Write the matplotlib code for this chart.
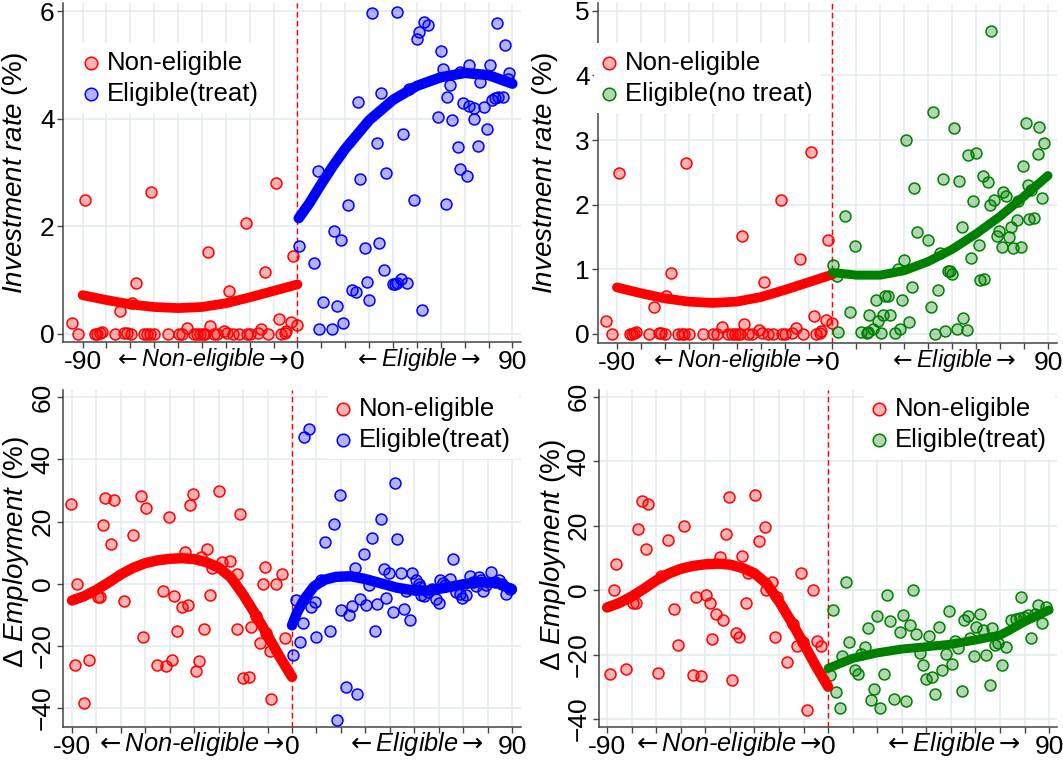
import numpy as np
import matplotlib
matplotlib.use('Agg')
import matplotlib.pyplot as plt

plt.rcParams['font.family'] = ['Liberation Sans', 'DejaVu Sans']
plt.rcParams['mathtext.fontset'] = 'custom'
plt.rcParams['mathtext.rm'] = 'Liberation Sans'
plt.rcParams['mathtext.it'] = 'Liberation Sans:italic'
plt.rcParams['mathtext.sf'] = 'DejaVu Sans'

# investment rate, non-eligible firms (same sample in both top panels)
inv_ne_x = [-94.4, -92.1, -89.0, -84.7, -83.8, -82.8, -81.9, -76.4, -74.4, -72.6, -71.5, -69.9, -69.4, -67.5,
            -64.3, -62.9, -61.8, -59.9, -61.3, -54.2, -49.7, -48.3, -46.3, -43.5, -42.1, -40.7, -39.6, -38.6,
            -37.6, -36.8, -35.1, -33.8, -30.7, -29.6, -28.6, -26.8, -24.7, -21.2, -19.9, -21.5, -16.7, -15.4,
            -13.6, -12.2, -9.0, -7.6, -6.7, -5.1, -4.9, -2.9, -1.8, -0.4]
inv_ne_y = [0.20, 0.00, 2.49, 0.00, 0.00, 0.02, 0.03, 0.00, 0.42, 0.02, 0.02, 0.00, 0.58, 0.94,
            0.00, 0.00, 0.00, 0.00, 2.64, 0.00, 0.00, 0.00, 0.11, 0.00, 0.00, 0.00, 0.00, 0.00,
            1.52, 0.15, 0.00, 0.00, 0.06, 0.02, 0.80, 0.00, 0.00, 0.00, 0.00, 2.07, 0.02, 0.09,
            1.16, 0.00, 2.81, 0.28, 0.00, 0.02, 0.05, 0.22, 1.45, 0.17]

# investment rate, eligible and treated
inv_tr_x = [0.7, 7.1, 8.5, 9.2, 10.5, 14.4, 15.3, 16.5, 18.3, 19.2, 21.3, 23.0, 24.4, 25.2, 26.2, 28.3,
            29.3, 30.1, 31.4, 33.2, 34.2, 35.0, 36.3, 37.1, 39.9, 40.9, 41.8, 41.8, 43.2, 44.1, 46.0, 46.9,
            48.8, 49.9, 50.9, 52.0, 53.0, 54.8, 59.0, 60.0, 60.8, 62.1, 62.8, 63.9, 64.9, 67.1, 68.1, 69.2,
            68.1, 70.9, 71.8, 72.0, 73.9, 74.1, 75.7, 76.4, 78.1, 79.5, 80.6, 81.6, 82.7, 84.1, 83.7, 85.9,
            86.9, 88.3, 88.7]
inv_tr_y = [1.63, 1.32, 3.02, 0.10, 0.59, 0.10, 1.92, 0.51, 1.75, 0.20, 2.39, 0.82, 0.78, 4.31, 2.88, 1.60,
            0.96, 0.63, 5.96, 3.55, 1.69, 4.47, 1.19, 3.00, 0.92, 0.92, 0.95, 5.99, 1.03, 3.71, 0.95, 4.55,
            2.48, 5.48, 5.61, 0.45, 5.80, 5.75, 4.04, 5.25, 4.92, 2.42, 4.41, 4.63, 3.98, 3.47, 4.86, 4.30,
            3.06, 2.94, 4.99, 4.23, 4.20, 3.99, 3.50, 4.69, 4.21, 3.81, 4.99, 4.35, 4.38, 4.41, 5.77, 4.41,
            5.37, 4.74, 4.85]

# investment rate, eligible but not treated
inv_nt_x = [0.3, 1.7, 2.5, 5.3, 7.2, 9.3, 12.1, 14.3, 15.0, 15.3, 17.0, 18.1, 19.2, 20.2, 20.9, 22.0, 23.0,
            24.1, 26.2, 27.2, 28.1, 28.9, 29.9, 30.9, 32.0, 33.0, 34.1, 35.1, 40.0, 41.1, 42.1, 42.9, 43.9,
            44.8, 46.0, 47.1, 48.1, 49.0, 49.9, 50.8, 51.8, 52.9, 53.9, 54.7, 56.0, 56.7, 59.9, 57.8, 58.8,
            61.6, 63.4, 61.0, 62.7, 64.8, 65.8, 67.6, 66.4, 68.7, 69.6, 70.8, 71.3, 72.4, 73.5, 74.5, 75.5,
            76.9, 77.3, 78.7, 79.4, 80.8, 81.5, 82.2, 84.3, 82.9, 85.7, 86.4, 87.5, 88.4]
inv_nt_y = [1.07, 0.89, 0.03, 1.82, 0.34, 1.36, 0.03, 0.02, 0.03, 0.29, 0.07, 0.53, 0.20, 0.02, 0.30, 0.58, 0.58,
            0.30, 0.02, 1.00, 0.07, 0.53, 1.14, 3.00, 0.18, 0.73, 2.26, 1.58, 1.45, 0.42, 3.44, 0.00, 0.68,
            1.25, 2.39, 0.05, 0.97, 0.97, 0.93, 3.19, 0.07, 2.36, 1.66, 0.24, 0.06, 2.77, 2.80, 1.17, 2.05,
            0.84, 0.85, 1.37, 2.45, 2.35, 2.00, 2.08, 4.69, 1.52, 1.59, 1.35, 2.19, 2.14, 1.50, 1.65, 1.33,
            1.77, 2.05, 1.34, 2.60, 3.27, 2.30, 1.78, 1.80, 2.23, 2.79, 3.20, 2.10, 2.96]

# fitted curves for investment rate
fit_inv_ne_x = [-90, -80, -70, -60, -50, -40, -30, -20, -10, 0]
fit_inv_ne_y = [0.72, 0.63, 0.55, 0.50, 0.48, 0.50, 0.57, 0.68, 0.80, 0.92]
fit_inv_tr_x = [0.5, 5, 10, 15, 20, 30, 40, 50, 60, 70, 80, 90]
fit_inv_tr_y = [2.15, 2.43, 2.79, 3.13, 3.44, 3.97, 4.35, 4.61, 4.77, 4.85, 4.81, 4.65]
fit_inv_nt_x = [0, 10, 20, 30, 40, 50, 60, 70, 80, 90]
fit_inv_nt_y = [0.95, 0.91, 0.91, 0.98, 1.12, 1.31, 1.55, 1.82, 2.13, 2.45]

# employment change, non-eligible (left bottom panel)
emp_ne1_x = [-90.3, -88.0, -88.8, -85.2, -83.2, -79.5, -78.7, -77.5, -76.4, -73.0, -74.1, -68.7, -65.1, -61.7,
             -59.7, -60.8, -55.3, -52.9, -51.7, -50.3, -49.3, -48.3, -47.0, -45.2, -43.9, -42.5, -41.6, -40.5,
             -39.2, -38.2, -37.1, -36.0, -34.8, -33.7, -32.7, -30.0, -28.8, -25.4, -22.7, -22.3, -21.1, -20.0,
             -17.5, -16.6, -14.6, -12.9, -11.8, -10.9, -10.5, -8.4, -8.8, -6.4, -4.0, -2.7]
emp_ne1_y = [25.6, 0.0, -26.0, -38.4, -24.4, -4.3, -4.3, 19.0, 27.7, 26.9, 12.7, -5.6, 15.8, 28.2,
             24.5, -17.0, -26.3, -2.2, -26.6, 21.3, -24.5, -4.0, -15.3, -7.5, 10.2, -7.0, 25.3, 29.0,
             -28.0, -25.0, 8.6, -14.5, 11.0, -3.8, 5.2, 29.8, 7.0, 7.2, 3.0, -14.5, 22.3, -30.3,
             -29.9, -14.0, -10.4, -19.0, 0.0, 5.4, -15.8, -37.1, -21.7, 0.0, 3.0, -17.4]

# employment change, eligible and treated (left bottom panel)
emp_tr_x = [0.4, 1.5, 3.1, 4.5, 4.9, 6.8, 7.9, 9.3, 10.0, 12.0, 13.6, 15.7, 17.1, 18.4, 19.5, 20.2, 22.2,
            23.2, 24.6, 25.6, 26.7, 28.0, 29.3, 30.4, 31.5, 32.7, 34.1, 34.9, 36.3, 37.5, 38.6, 39.7, 41.3,
            42.3, 43.0, 44.7, 45.7, 46.8, 48.4, 49.2, 50.9, 52.0, 52.3, 52.9, 53.9, 55.7, 57.4, 58.8, 60.2,
            60.7, 61.8, 62.8, 64.8, 65.9, 67.3, 68.6, 69.7, 71.1, 72.7, 74.1, 75.4, 76.5, 77.2, 78.2, 79.5,
            81.3, 82.9, 84.7, 86.1, 87.4, 89.1]
emp_tr_y = [-22.8, -5.2, -18.8, -12.6, 47.1, 49.8, -7.5, -5.9, -17.0, 1.1, 13.4, -15.1, 19.1, -43.8, 28.5, -8.4, -33.1,
            -10.2, -7.2, 5.1, -35.5, -4.8, 9.7, -6.7, -0.5, 14.7, -15.3, -6.5, 20.8, 4.8, -4.5, 3.4, -9.1,
            32.5, 14.5, 3.4, -8.3, -2.4, -11.8, 3.4, 1.1, 0.0, -1.1, -3.8, -4.0, -2.7, -1.6, -4.8, -6.2,
            1.1, 0.2, -0.3, 1.4, 8.1, -2.7, -3.2, -4.5, -3.8, 2.5, 0.5, -0.9, 2.2, 1.1, -2.4, -0.5,
            3.8, 0.5, 1.1, -0.2, -3.2, -1.6]

# employment change, non-eligible (right bottom panel)
emp_ne2_x = [-88.9, -87.3, -86.5, -82.4, -79.4, -78.3, -77.3, -75.7, -73.3, -74.3, -69.2, -67.9, -65.1, -62.8,
             -61.1, -58.8, -55.0, -53.6, -51.6, -49.6, -48.2, -47.1, -45.8, -44.1, -43.0, -41.4, -40.3, -39.0,
             -37.7, -36.4, -35.0, -33.5, -32.6, -29.6, -28.2, -25.8, -25.1, -22.7, -21.0, -21.7, -16.7, -14.2,
             -12.5, -11.1, -10.4, -8.5, -6.1, -4.7, -3.1]
emp_ne2_y = [-26.1, 0.0, 8.1, -24.6, -3.9, -3.9, 19.0, 27.8, 26.7, 12.6, -25.6, 4.4, 15.5, -6.0,
             -17.1, 19.9, -26.4, -2.3, -26.6, -1.6, -3.9, -15.3, -7.5, 10.2, -9.3, 17.4, 29.0, -28.0,
             -13.2, -14.7, 10.7, -3.9, 5.2, 29.5, 15.3, 19.5, 0.0, 2.6, -2.3, -14.5, -22.3, -10.6,
             -17.4, 5.4, -16.1, -37.3, 0.0, -15.8, -17.4]

# employment change, eligible (right bottom panel)
emp_tr2_x = [1.8, 0.9, 3.1, 4.7, 5.8, 7.2, 8.5, 10.9, 12.2, 13.3, 14.9, 16.3, 17.6, 18.7, 20.0, 21.3, 22.8,
             24.0, 25.1, 26.7, 29.2, 30.3, 31.9, 33.2, 34.6, 35.9, 37.3, 38.7, 39.8, 42.3, 40.9, 43.7, 45.0,
             46.4, 47.8, 49.1, 50.5, 51.6, 52.9, 54.5, 55.4, 57.0, 57.9, 59.3, 60.4, 62.0, 63.1, 64.4, 65.8,
             66.9, 68.1, 69.2, 71.0, 72.6, 74.6, 76.6, 78.0, 79.6, 81.4, 78.7, 82.8, 84.1, 85.5, 87.2, 88.6]
emp_tr2_y = [-6.2, -26.4, -31.6, -36.5, -20.5, 2.4, -16.1, -24.7, -26.2, -19.7, -17.6, -11.9, -34.2, -30.6, -8.0, -36.5, -25.9,
             -1.6, -9.5, -33.9, -13.0, -7.6, -34.4, -10.9, 0.0, -13.5, -19.5, -23.3, -27.5, -26.9, -14.2, -32.3, -11.4,
             -24.9, -19.9, -6.4, -23.0, -15.8, -18.1, -31.3, -9.3, -8.1, -15.0, -20.5, -11.4, -7.3, -12.4, -20.2, -29.5,
             -11.9, -17.1, -16.4, -23.3, -17.8, -9.3, -9.1, -8.8, -8.3, -7.8, -2.3, -14.8, -7.3, -4.7, -10.2, -5.4]

# fitted curves for employment change
fit_emp_ne_x = [-90, -85, -80, -75, -70, -65, -60, -55, -50, -45, -40, -35, -30, -25, -20, -15, -10, -5, 0]
fit_emp_ne_y = [-5.4, -4.0, -2.0, 0.4, 3.0, 5.1, 6.6, 7.5, 8.0, 8.2, 7.9, 6.9, 5.2, 2.0, -3.5, -9.8, -16.6, -23.6, -30.0]
fit_emp_tr_x = [0, 2, 5, 9, 13, 18, 24, 30, 36, 43, 50, 56, 63, 70, 77, 84, 90]
fit_emp_tr_y = [-13.4, -9.4, -5.0, -0.9, 1.2, 2.2, 2.4, 1.5, 0.2, -1.3, -2.2, -2.2, -1.3, -0.2, 0.5, 0.2, -1.8]
fit_emp_tr2_x = [0, 10, 20, 30, 40, 50, 60, 70, 74, 80, 90]
fit_emp_tr2_y = [-24.3, -21.2, -19.5, -18.3, -17.6, -16.8, -15.5, -14.0, -12.4, -9.8, -6.2]

RED = '#ff0000'
BLUE = '#0000ff'
GREEN = '#008000'
GRID = '#e3ebee'

W, H = 1063, 761
fig = plt.figure(figsize=(W / 100, H / 100), dpi=100)

NE_TXT = r'$\mathsf{\leftarrow}$Non-eligible$\mathsf{\rightarrow}$'
EL_TXT = r'$\mathsf{\leftarrow}$Eligible$\mathsf{\rightarrow}$'


def px_axes(left, top, right, bottom):
    return fig.add_axes([left / W, 1 - bottom / H, (right - left) / W, (bottom - top) / H])


def dots(ax, x, y, color, label):
    ax.scatter(x, y, s=62, facecolor=matplotlib.colors.to_rgba(color, 0.3),
               edgecolor=color, linewidth=1.1, label=label, zorder=3)


def fit(ax, x, y, color, lw):
    ax.plot(x, y, color=color, lw=lw, solid_capstyle='round', zorder=4)


def style(ax, yticks, xtxt, lab_fs, ylabel, rotate, lab_x, lab_y):
    ax.set_xticks(np.arange(-90, 91, 10))
    ax.set_xticklabels(['-90' if t == -90 else '0' if t == 0 else '90' if t == 90 else ''
                        for t in range(-90, 91, 10)])
    ax.set_yticks(yticks)
    ax.grid(True, color=GRID, lw=1.1, zorder=0)
    ax.set_axisbelow(True)
    for s in ['top', 'right']:
        ax.spines[s].set_visible(False)
    for s in ['left', 'bottom']:
        ax.spines[s].set_color('#444444')
        ax.spines[s].set_linewidth(1.1)
    ax.tick_params(length=4, width=1, color='#444444', labelsize=19, pad=2)
    if rotate:
        plt.setp(ax.get_yticklabels(), rotation=90, va='center')
    ax.axvline(0, color=RED, lw=1, dashes=(4, 2.5), zorder=1)
    ax.set_ylabel(ylabel, fontsize=20)
    ax.yaxis.set_label_coords(lab_x, lab_y)
    ax.yaxis.label.set_verticalalignment('center')
    for xv, t in xtxt:
        ax.annotate(t, xy=(xv, 0), xycoords=ax.get_xaxis_transform(), xytext=(0, -12.5),
                    textcoords='offset points', ha='center', va='center', fontsize=lab_fs,
                    fontstyle='italic')


def legend(ax, x, y):
    leg = ax.legend(loc='upper left', bbox_to_anchor=(x / W, 1 - y / H), bbox_transform=fig.transFigure,
                    fontsize=18.5, frameon=True, fancybox=False, framealpha=1, edgecolor='none',
                    borderaxespad=0, borderpad=0.3, handlelength=0.6, handletextpad=0.3,
                    labelspacing=0.27, markerscale=1.15)
    leg.set_zorder(6)


ylab_inv = r'$\mathit{Investment\ rate}$ (%)'
ylab_emp = r'$\Delta$ $\mathit{Employment}$ (%)'

# top left
ax = px_axes(63, 3, 521, 342)
dots(ax, inv_ne_x, inv_ne_y, RED, 'Non-eligible')
dots(ax, inv_tr_x, inv_tr_y, BLUE, 'Eligible(treat)')
fit(ax, fit_inv_ne_x, fit_inv_ne_y, RED, 7)
fit(ax, fit_inv_tr_x, fit_inv_tr_y, BLUE, 7.5)
ax.set_xlim(-98.2, 93.6)
ax.set_ylim(-0.15, 6.15)
style(ax, [0, 2, 4, 6], [(-40.0, NE_TXT), (50.2, EL_TXT)], 16.8, ylab_inv, False, -0.105, 0.5)
legend(ax, 76, 43)

# top right
ax = px_axes(598, 3, 1057, 343)
dots(ax, inv_ne_x, inv_ne_y, RED, 'Non-eligible')
dots(ax, inv_nt_x, inv_nt_y, GREEN, 'Eligible(no treat)')
fit(ax, fit_inv_ne_x, fit_inv_ne_y, RED, 7)
fit(ax, fit_inv_nt_x, fit_inv_nt_y, GREEN, 6.5)
ax.set_xlim(-97.9, 93.75)
ax.set_ylim(-0.14, 5.12)
style(ax, [0, 1, 2, 3, 4, 5], [(-39.6, NE_TXT), (50.2, EL_TXT)], 16.8, ylab_inv, False, -0.115, 0.5)
legend(ax, 594, 43)

# bottom left
ax = px_axes(63, 390, 521, 727)
dots(ax, emp_ne1_x, emp_ne1_y, RED, 'Non-eligible')
dots(ax, emp_tr_x, emp_tr_y, BLUE, 'Eligible(treat)')
fit(ax, fit_emp_ne_x, fit_emp_ne_y, RED, 7.5)
fit(ax, fit_emp_tr_x, fit_emp_tr_y, BLUE, 7.5)
ax.set_xlim(-93.7, 93.7)
ax.set_ylim(-46.1, 62.3)
style(ax, [-40, -20, 0, 20, 40, 60], [(-41.6, NE_TXT), (50.3, EL_TXT)], 18.3, ylab_emp, True, -0.103, 0.52)
legend(ax, 328, 389)

# bottom right
ax = px_axes(599, 390, 1057, 727)
dots(ax, emp_ne2_x, emp_ne2_y, RED, 'Non-eligible')
dots(ax, emp_tr2_x, emp_tr2_y, GREEN, 'Eligible(treat)')
fit(ax, fit_emp_ne_x, fit_emp_ne_y, RED, 7.5)
fit(ax, fit_emp_tr2_x, fit_emp_tr2_y, GREEN, 6.5)
ax.set_xlim(-93.3, 93.2)
ax.set_ylim(-42.5, 62.1)
style(ax, [-40, -20, 0, 20, 40, 60], [(-41.0, NE_TXT), (50.3, EL_TXT)], 18.3, ylab_emp, True, -0.1, 0.51)
legend(ax, 864, 389)

fig.savefig('out.png', dpi=100)
